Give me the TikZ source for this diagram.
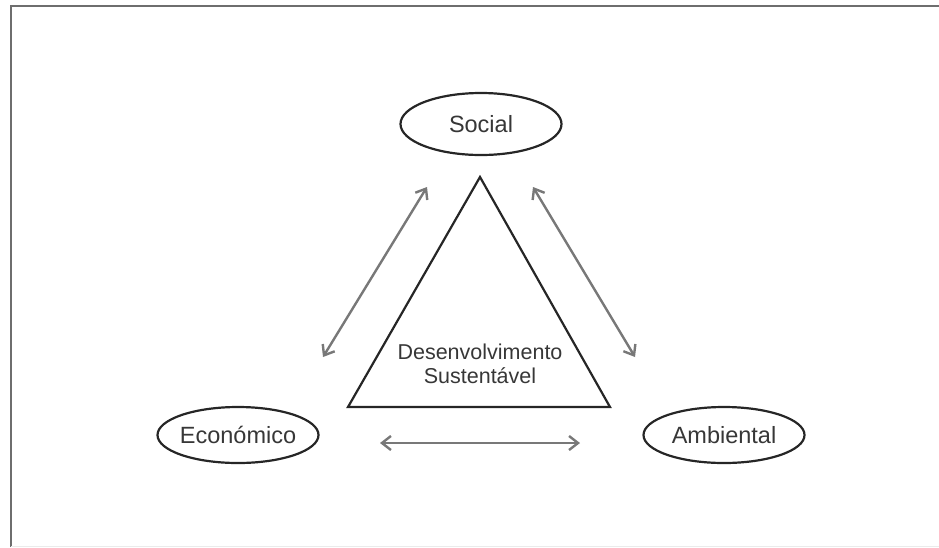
\documentclass[tikz,border=0pt]{standalone}
\usepackage{fontspec}
\setmainfont{Liberation Sans}
\usepackage{tikz}
\usetikzlibrary{calc,arrows.meta,shapes.geometric}
\definecolor{txtgray}{RGB}{55,55,55}
\definecolor{arrgray}{RGB}{120,120,120}
\definecolor{framegray}{RGB}{110,110,110}
\begin{document}
\begin{tikzpicture}[x=1pt,y=-1pt,
  pillar/.style={ellipse, draw=black!85, line width=2.2pt, minimum width=161pt, minimum height=56pt, inner sep=-12pt, text=txtgray, font=\fontsize{23.5}{28}\selectfont},
  link/.style={{Straight Barb[length=9pt,width=14pt]}-{Straight Barb[length=9pt,width=14pt]}, draw=arrgray, line width=2.4pt}]
\useasboundingbox (0,0) rectangle (939,547);
\draw[framegray, line width=1.5pt] (939,6) -- (11,6) -- (11,547);
\draw[black!8, line width=1pt] (11,546) -- (939,546);
% the three pillars
\node[pillar, minimum height=62pt] (social) at (481,124) {Social};
\node[pillar] (economico) at (238,435) {Económico};
\node[pillar] (ambiental) at (724,435) {Ambiental};
% triangle
\coordinate (apex) at (480,177);
\coordinate (bl) at (348,407);
\coordinate (br) at (610,407);
\draw[black!85, line width=2.2pt, line join=miter] (apex) -- (bl) -- (br) -- cycle;
\node[text=txtgray, align=center, font=\fontsize{21.5}{24}\selectfont] (ds) at (480,364) {Desenvolvimento\\Sustentável};
% arrows
\coordinate (l1) at (323,357); \coordinate (l2) at (427,187);
\coordinate (r1) at (533,187); \coordinate (r2) at (635,357);
\coordinate (b1) at (380,443); \coordinate (b2) at (580,443);
\foreach \a/\b in {l1/l2,r1/r2,b1/b2}
\draw[link] (\a) -- (\b);
\end{tikzpicture}
\end{document}
